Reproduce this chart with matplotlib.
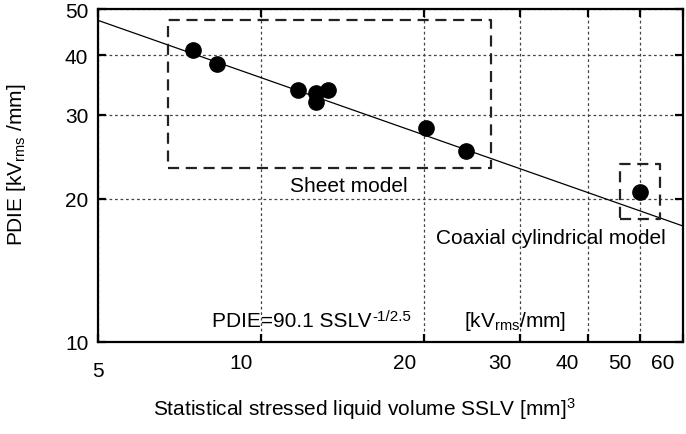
import matplotlib
matplotlib.use("Agg")
import matplotlib.pyplot as plt
import matplotlib.patches as mpatches
from matplotlib.transforms import ScaledTranslation
import numpy as np

plt.rcParams['font.family'] = ['Liberation Sans', 'DejaVu Sans']
plt.rcParams['mathtext.default'] = 'regular'
plt.rcParams['font.size'] = 15

# measured points (SSLV [mm^3], PDIE [kV_rms/mm])
sslv = [7.5, 8.3, 11.7, 12.6, 12.6, 13.3, 20.1, 23.9, 50.0]
pdie = [41.0, 38.3, 33.8, 33.3, 31.9, 33.8, 28.1, 25.2, 20.6]

# fit: PDIE = 90.1 * SSLV^(-1/2.5)
fit_coef = 90.1
fit_exp = -1 / 2.5

x_ticks = [5, 10, 20, 30, 40, 50, 60]
y_ticks = [10, 20, 30, 40, 50]

# dashed boxes: (x0, x1, y0, y1)
sheet_box = (6.72, 26.5, 23.2, 47.4)
coax_box = (46.0, 54.4, 18.1, 23.6)

fig = plt.figure(figsize=(6.86, 4.35), dpi=100)
ax = fig.add_axes([0.1429, 0.2115, 0.8527, 0.7655])
ax.set_xscale('log')
ax.set_yscale('log')
ax.set_xlim(5, 60)
ax.set_ylim(10, 50)

# grid
ax.set_xticks(x_ticks)
ax.set_xticklabels([str(v) for v in x_ticks])
ax.set_yticks(y_ticks)
ax.set_yticklabels([str(v) for v in y_ticks])
ax.minorticks_off()
ax.grid(True, which='major', color='#444444', linestyle=(0, (2.2, 2.2)), linewidth=0.9, zorder=1)

# white band behind the equation text
ax.add_patch(mpatches.Rectangle((0.175, 0.0), 0.52, 0.145, transform=ax.transAxes,
                                facecolor='white', edgecolor='none', zorder=1.5))

# fit line
xf = np.array([5, 60])
ax.plot(xf, fit_coef * xf ** fit_exp, color='black', linewidth=0.9, zorder=3)

# points
ax.plot(sslv, pdie, 'o', color='black', markersize=11, zorder=4)

# dashed boxes
for x0, x1, y0, y1 in [sheet_box, coax_box]:
    ax.plot([x0, x1, x1, x0, x0], [y0, y0, y1, y1, y0], color='#222222',
            linestyle=(0, (5, 3)), linewidth=1.6, zorder=3)

ax.text(14.5, 21.3, 'Sheet model', ha='center', va='center', zorder=5)
ax.text(34.2, 16.6, 'Coaxial cylindrical model', ha='center', va='center', zorder=5)
eq = ax.text(8.12, 11.1, 'PDIE=90.1 SSLV', ha='left', va='center', zorder=5)
ax.annotate('-1/2.5', xy=(1, 1), xycoords=eq, xytext=(0.5, 1.5), textcoords='offset points',
            ha='left', va='top', fontsize=11, zorder=5)
ax.text(29.4, 11.1, '[kV$_{rms}$/mm]', ha='center', va='center', zorder=5)

# spines / ticks
for s in ax.spines.values():
    s.set_linewidth(1.6)
ax.tick_params(which='major', direction='in', length=5.5, width=1.6,
               top=True, right=True)
ax.tick_params(axis='x', pad=8)
ax.tick_params(axis='y', pad=7)

# tick labels in the original sit a bit left of their grid lines
for lab, v in zip(ax.get_xticklabels(), x_ticks):
    if v == 5:
        dx, dy = 0, -8
    else:
        dx, dy = -20, 0
    lab.set_transform(lab.get_transform() + ScaledTranslation(dx / 100, dy / 100, fig.dpi_scale_trans))

ax.set_xlabel('Statistical stressed liquid volume SSLV [mm]$^3$')
ax.xaxis.set_label_coords(0.456, -0.16)
ax.set_ylabel('PDIE [kV$_{rms}$ /mm]')
ax.yaxis.set_label_coords(-0.12, 0.535)

fig.savefig('out.png', dpi=100)
